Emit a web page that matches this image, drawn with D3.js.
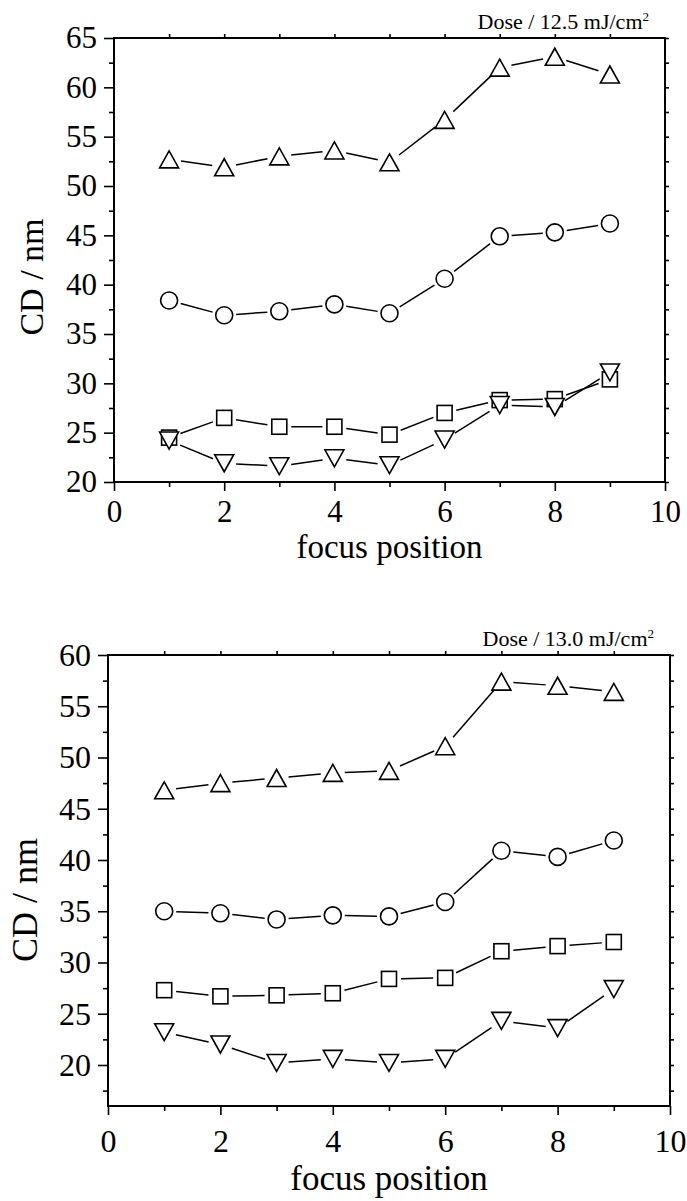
<!DOCTYPE html>
<html>
<head>
<meta charset="utf-8">
<title>CD vs focus position</title>
<script src="https://cdn.jsdelivr.net/npm/d3@7"></script>
<style>
  body { margin: 0; background: #fff; }
  svg { display: block; }
  text { font-family: "Liberation Serif", "Times New Roman", serif; fill: #000; }
</style>
</head>
<body>
<script>
// focus positions (x values)
var focusPos = [1, 2, 3, 4, 5, 6, 7, 8, 9];

// dose 12.5 mJ/cm2
var topUp     = [52.7, 51.9, 53.0, 53.6, 52.4, 56.7, 62.0, 63.1, 61.3];
var topCircle = [38.4, 36.9, 37.3, 38.0, 37.1, 40.6, 44.9, 45.3, 46.2];
var topSquare = [24.5, 26.5, 25.6, 25.6, 24.8, 27.0, 28.3, 28.4, 30.4];
var topDown   = [24.2, 21.9, 21.6, 22.4, 21.7, 24.3, 27.8, 27.6, 31.1];

// dose 13.0 mJ/cm2
var botUp     = [46.8, 47.5, 48.0, 48.5, 48.7, 51.1, 57.4, 57.0, 56.4];
var botCircle = [35.0, 34.8, 34.2, 34.6, 34.5, 35.9, 40.9, 40.3, 41.9];
var botSquare = [27.3, 26.7, 26.8, 27.0, 28.4, 28.5, 31.1, 31.6, 32.0];
var botDown   = [23.2, 22.0, 20.2, 20.6, 20.2, 20.6, 24.3, 23.6, 27.4];

// tick labels
var xTicks = [0, 2, 4, 6, 8, 10];
var topYTicks = [20, 25, 30, 35, 40, 45, 50, 55, 60, 65];
var botYTicks = [20, 25, 30, 35, 40, 45, 50, 55, 60];

var serif = '"Liberation Serif", "Times New Roman", serif';

var svg = d3.select("body").append("svg")
    .attr("width", 687)
    .attr("height", 1201);

svg.append("rect").attr("width", 687).attr("height", 1201).attr("fill", "#fff");

// marker shapes, drawn around (0,0)
var tw = 19, th = 17;
function shape(g, kind) {
  if (kind == "circle") {
    g.append("circle").attr("r", 8.5);
  } else if (kind == "square") {
    g.append("rect").attr("x", -7.5).attr("y", -7.5).attr("width", 15).attr("height", 15);
  } else if (kind == "up") {
    g.append("path").attr("d", "M0," + (-th / 2) + "L" + (tw / 2) + "," + (th / 2) + "L" + (-tw / 2) + "," + (th / 2) + "Z");
  } else {
    g.append("path").attr("d", "M0," + (th / 2) + "L" + (tw / 2) + "," + (-th / 2) + "L" + (-tw / 2) + "," + (-th / 2) + "Z");
  }
}

function panel(o) {
  var g = svg.append("g");
  var x = d3.scaleLinear().domain([0, 10]).range([o.left, o.right]);
  var y = d3.scaleLinear().domain(o.yDomain).range([o.bottom, o.top]);

  function tidy(sel, fs) {
    sel.attr("font-family", serif).attr("font-size", fs);
    sel.select(".domain").remove();
    sel.selectAll(".tick line").attr("stroke", "#000").attr("stroke-width", 1.6);
    sel.selectAll("text").attr("font-size", fs).attr("fill", "#000")
      .attr("font-family", serif);
  }

  // left axis: minor then major
  g.append("g").attr("transform", "translate(" + o.left + ",0)")
    .call(d3.axisLeft(y).tickValues(o.yMinor).tickSize(5).tickFormat(""))
    .call(tidy, o.fs);
  g.append("g").attr("transform", "translate(" + o.left + ",0)")
    .call(d3.axisLeft(y).tickValues(o.yTicks).tickSize(10).tickPadding(7))
    .call(tidy, o.fs);

  // right axis: small outward ticks
  g.append("g").attr("transform", "translate(" + o.right + ",0)")
    .call(d3.axisRight(y).tickValues(o.yMinor.concat(o.yTicks)).tickSize(4).tickFormat(""))
    .call(tidy, o.fs);

  // top axis
  g.append("g").attr("transform", "translate(0," + o.top + ")")
    .call(d3.axisTop(x).tickValues(d3.range(1, 10)).tickSize(4).tickFormat(""))
    .call(tidy, o.fs);

  // bottom axis
  g.append("g").attr("transform", "translate(0," + o.bottom + ")")
    .call(d3.axisBottom(x).tickValues([1, 3, 5, 7, 9]).tickSize(5).tickFormat(""))
    .call(tidy, o.fs);
  g.append("g").attr("transform", "translate(0," + o.bottom + ")")
    .call(d3.axisBottom(x).tickValues(xTicks).tickSize(9).tickPadding(o.xPad))
    .call(tidy, o.fs);

  // frame
  g.append("rect")
    .attr("x", o.left).attr("y", o.top)
    .attr("width", o.right - o.left).attr("height", o.bottom - o.top)
    .attr("fill", "none").attr("stroke", "#000").attr("stroke-width", 2);

  // series: broken connecting lines, then open markers
  o.series.forEach(function(s) {
    var pts = focusPos.map(function(f, i) { return [x(f), y(s.values[i])]; });
    var gap = 12;
    for (var i = 0; i < pts.length - 1; i++) {
      var a = pts[i], b = pts[i + 1];
      var dx = b[0] - a[0], dy = b[1] - a[1];
      var len = Math.sqrt(dx * dx + dy * dy);
      if (len <= 2 * gap) continue;
      var ux = dx / len, uy = dy / len;
      g.append("line")
        .attr("x1", a[0] + ux * gap).attr("y1", a[1] + uy * gap)
        .attr("x2", b[0] - ux * gap).attr("y2", b[1] - uy * gap)
        .attr("stroke", "#000").attr("stroke-width", 1.5);
    }
    pts.forEach(function(p) {
      var m = g.append("g")
        .attr("transform", "translate(" + p[0] + "," + p[1] + ")")
        .attr("fill", "#fff").attr("stroke", "#000").attr("stroke-width", 1.6);
      shape(m, s.kind);
    });
  });

  // dose label
  var t = g.append("text")
    .attr("x", o.right - 16).attr("y", o.top - 9)
    .attr("text-anchor", "end").attr("font-size", 22)
    .attr("font-family", serif)
    .text(o.dose);
  t.append("tspan").attr("font-size", 13).attr("dy", -8).text("2");

  // axis titles
  g.append("text")
    .attr("transform", "translate(" + o.yTitleX + "," + o.yTitleY + ") rotate(-90)")
    .attr("text-anchor", "middle").attr("font-size", o.titleFs + 1)
    .attr("font-family", serif)
    .text("CD / nm");
  g.append("text")
    .attr("x", (o.left + o.right) / 2).attr("y", o.xTitleY)
    .attr("text-anchor", "middle").attr("font-size", o.titleFs)
    .attr("font-family", serif)
    .text("focus position");
}

panel({
  left: 114, right: 665, top: 38, bottom: 482,
  yDomain: [20, 65], yTicks: topYTicks, yMinor: d3.range(22.5, 65, 5),
  fs: 31, titleFs: 33,
  xPad: 9, xTitleY: 558, yTitleX: 43, yTitleY: 277,
  dose: "Dose / 12.5 mJ/cm",
  series: [
    { kind: "up", values: topUp },
    { kind: "circle", values: topCircle },
    { kind: "square", values: topSquare },
    { kind: "down", values: topDown }
  ]
});

panel({
  left: 108, right: 670, top: 655, bottom: 1106,
  yDomain: [16, 60], yTicks: botYTicks, yMinor: d3.range(17.5, 60, 5),
  fs: 32, titleFs: 35,
  xPad: 14, xTitleY: 1190, yTitleX: 37, yTitleY: 900,
  dose: "Dose / 13.0 mJ/cm",
  series: [
    { kind: "up", values: botUp },
    { kind: "circle", values: botCircle },
    { kind: "square", values: botSquare },
    { kind: "down", values: botDown }
  ]
});
</script>
</body>
</html>
